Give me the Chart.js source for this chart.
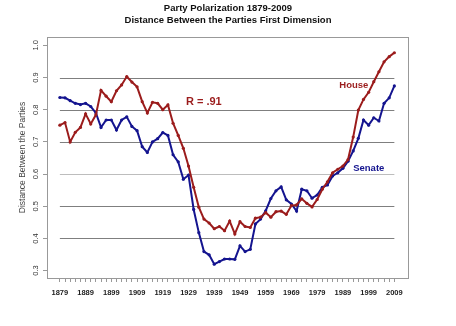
<!DOCTYPE html>
<html>
<head>
<meta charset="utf-8">
<script src="https://cdn.jsdelivr.net/npm/chart.js@4.4.0/dist/chart.umd.min.js"></script>
<style>
  html, body { margin: 0; padding: 0; background: #fff; }
  canvas { display: block; }
</style>
</head>
<body>
<canvas id="myChart" width="456" height="326"></canvas>
<script>
// congress years, every 2 years
const years = [1879, 1881, 1883, 1885, 1887, 1889, 1891, 1893, 1895, 1897,
  1899, 1901, 1903, 1905, 1907, 1909, 1911, 1913, 1915, 1917,
  1919, 1921, 1923, 1925, 1927, 1929, 1931, 1933, 1935, 1937,
  1939, 1941, 1943, 1945, 1947, 1949, 1951, 1953, 1955, 1957,
  1959, 1961, 1963, 1965, 1967, 1969, 1971, 1973, 1975, 1977,
  1979, 1981, 1983, 1985, 1987, 1989, 1991, 1993, 1995, 1997,
  1999, 2001, 2003, 2005, 2007, 2009];

const house = [0.752, 0.760, 0.700, 0.730, 0.745, 0.787, 0.756, 0.784, 0.860, 0.842,
  0.825, 0.859, 0.877, 0.903, 0.886, 0.871, 0.825, 0.790, 0.823, 0.820,
  0.800, 0.815, 0.758, 0.720, 0.680, 0.625, 0.559, 0.497, 0.460, 0.448,
  0.430, 0.437, 0.424, 0.454, 0.414, 0.452, 0.437, 0.434, 0.463, 0.466,
  0.480, 0.466, 0.483, 0.485, 0.475, 0.502, 0.504, 0.523, 0.509, 0.498,
  0.521, 0.553, 0.576, 0.604, 0.615, 0.625, 0.645, 0.715, 0.799, 0.832,
  0.854, 0.887, 0.918, 0.949, 0.965, 0.977];

const senate = [0.838, 0.837, 0.828, 0.820, 0.816, 0.820, 0.810, 0.790, 0.745, 0.768,
  0.768, 0.737, 0.768, 0.778, 0.748, 0.735, 0.685, 0.667, 0.700, 0.710,
  0.729, 0.720, 0.660, 0.638, 0.584, 0.597, 0.490, 0.418, 0.359, 0.349,
  0.320, 0.328, 0.336, 0.336, 0.335, 0.377, 0.359, 0.366, 0.445, 0.460,
  0.486, 0.524, 0.548, 0.560, 0.520, 0.507, 0.485, 0.553, 0.548, 0.525,
  0.535, 0.559, 0.566, 0.594, 0.604, 0.618, 0.640, 0.672, 0.711, 0.768,
  0.752, 0.775, 0.765, 0.820, 0.837, 0.874];

const xLabelYears = [1879, 1889, 1899, 1909, 1919, 1929, 1939, 1949, 1959, 1969, 1979, 1989, 1999, 2009];
const yTicks = [0.3, 0.4, 0.5, 0.6, 0.7, 0.8, 0.9, 1.0];
const gridValues = [0.4, 0.5, 0.6, 0.7, 0.8, 0.9];
const titleLines = ['Party Polarization 1879-2009', 'Distance Between the Parties First Dimension'];

const RED = '#9b1c1c';
const BLUE = '#14148f';
const FONT = "'Liberation Sans', Arial, sans-serif";

// gridlines, frame, title, rotated y labels and the text notes
const decor = {
  id: 'decor',
  beforeDatasetsDraw(chart) {
    const ctx = chart.ctx;
    const xs = chart.scales.x, ys = chart.scales.y;
    const x0 = xs.getPixelForValue(years[0]);
    const x1 = xs.getPixelForValue(years[years.length - 1]);
    ctx.save();
    ctx.lineWidth = 1;
    gridValues.forEach(v => {
      const py = Math.round(ys.getPixelForValue(v)) + 0.5;
      ctx.strokeStyle = v === 0.6 ? '#bdbdbd' : '#7f7f7f';
      ctx.beginPath();
      ctx.moveTo(x0, py);
      ctx.lineTo(x1, py);
      ctx.stroke();
    });
    ctx.restore();
  },
  afterDraw(chart) {
    const ctx = chart.ctx;
    const a = chart.chartArea;
    const xs = chart.scales.x, ys = chart.scales.y;
    ctx.save();
    ctx.strokeStyle = '#999';
    ctx.lineWidth = 1;
    ctx.strokeRect(Math.round(a.left) + 0.5, Math.round(a.top) + 0.5,
      Math.round(a.right - a.left), Math.round(a.bottom - a.top));

    // title
    ctx.fillStyle = '#111';
    ctx.font = 'bold 9.5px ' + FONT;
    ctx.textAlign = 'center';
    ctx.textBaseline = 'middle';
    ctx.fillText(titleLines[0], 228, 8);
    ctx.fillText(titleLines[1], 228, 20);

    ctx.fillStyle = '#333';
    ctx.font = '7.5px ' + FONT;
    yTicks.forEach(v => {
      const py = ys.getPixelForValue(v);
      ctx.save();
      ctx.translate(36, py);
      ctx.rotate(-Math.PI / 2);
      ctx.fillText(v.toFixed(1), 0, 0);
      ctx.restore();
    });

    ctx.textAlign = 'left';
    ctx.font = 'bold 11px ' + FONT;
    ctx.fillStyle = RED;
    ctx.fillText('R = .91', xs.getPixelForValue(1928), ys.getPixelForValue(0.825));
    ctx.font = 'bold 9.5px ' + FONT;
    ctx.fillText('House', xs.getPixelForValue(1987.6), ys.getPixelForValue(0.877));
    ctx.fillStyle = BLUE;
    ctx.fillText('Senate', xs.getPixelForValue(1993), ys.getPixelForValue(0.619));
    ctx.restore();
  }
};

const ctx = document.getElementById('myChart').getContext('2d');
let myChart = new Chart(ctx, {
  type: 'line',
  data: {
    datasets: [{
      label: 'House',
      data: years.map((y, i) => ({ x: y, y: house[i] })),
      borderColor: RED,
      backgroundColor: RED,
      borderWidth: 2,
      pointRadius: 1.6,
      pointBorderWidth: 0,
      tension: 0
    }, {
      label: 'Senate',
      data: years.map((y, i) => ({ x: y, y: senate[i] })),
      borderColor: BLUE,
      backgroundColor: BLUE,
      borderWidth: 2,
      pointRadius: 1.6,
      pointBorderWidth: 0,
      tension: 0
    }]
  },
  options: {
    responsive: false,
    animation: false,
    layout: { padding: { top: 37, left: 0, right: 48, bottom: 0 } },
    plugins: {
      legend: { display: false },
      tooltip: { enabled: false },
      title: { display: false }
    },
    scales: {
      x: {
        type: 'linear',
        min: 1874,
        max: 2014.3,
        afterBuildTicks: s => { s.ticks = years.map(v => ({ value: v })); },
        afterFit: s => { s.height = 48; },
        grid: { drawOnChartArea: false, drawTicks: true, tickLength: 4, color: '#999' },
        border: { color: '#999' },
        ticks: {
          autoSkip: false,
          maxRotation: 0,
          minRotation: 0,
          padding: 6,
          color: '#222',
          font: { family: FONT, size: 7.5, weight: 'bold' },
          callback: v => xLabelYears.includes(v) ? String(v) : ''
        }
      },
      y: {
        min: 0.277,
        max: 1.026,
        afterBuildTicks: s => { s.ticks = yTicks.map(v => ({ value: v })); },
        afterFit: s => { s.width = 47; },
        grid: { drawOnChartArea: false, drawTicks: true, tickLength: 4, color: '#999' },
        border: { color: '#999' },
        ticks: { display: false },
        title: {
          display: true,
          text: 'Distance Between the Parties',
          color: '#444',
          font: { family: FONT, size: 8.5 },
          padding: { top: 18, bottom: 0 }
        }
      }
    }
  },
  plugins: [decor]
});
</script>
</body>
</html>
